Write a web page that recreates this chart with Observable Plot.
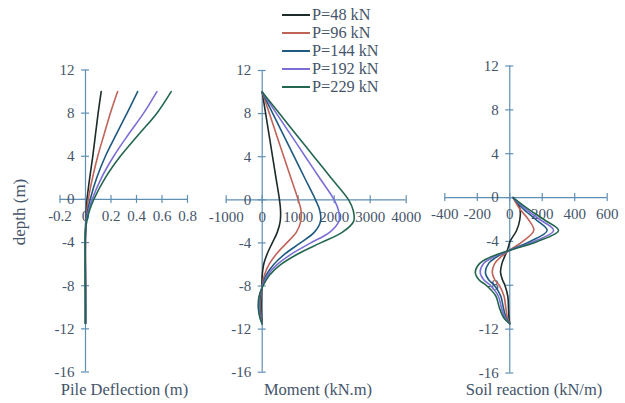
<!DOCTYPE html>
<html><head><meta charset="utf-8">
<script src="https://cdn.jsdelivr.net/npm/d3@7"></script>
<script src="https://cdn.jsdelivr.net/npm/@observablehq/plot@0.6"></script>
<style>
body{margin:0;background:#fff;}
#wrap{position:relative;width:625px;height:403px;overflow:hidden;background:#fff;font-family:"Liberation Serif","Times New Roman",serif;color:#44546a;}
#wrap svg{position:absolute;left:0;top:0;}
.lab{position:absolute;white-space:nowrap;transform:translate(-50%,-50%);font-size:16.5px;line-height:18px;}
.leg{position:absolute;left:282px;height:16px;line-height:16px;display:flex;align-items:center;font-size:16.3px;white-space:nowrap;}
.leg span.sw{display:inline-block;width:28px;height:2px;margin-right:2px;}
</style></head><body><div id="wrap"></div>
<script>
// ---- data ----
const loads = ["P=48 kN", "P=96 kN", "P=144 kN", "P=192 kN", "P=229 kN"];
const colors = ["#1d2b2b", "#c0645a", "#1f5a80", "#7b6fd6", "#23664e"];

const deflDepth = [10, 8, 6, 4, 2, 0, -1, -2, -3, -4, -6, -8, -10, -11.5];
const defl48  = [0.123, 0.099, 0.078, 0.057, 0.033, 0.012, 0.006, 0.002, 0, -0.001, -0.001, 0, 0, 0];
const defl96  = [0.252, 0.195, 0.145, 0.096, 0.055, 0.022, 0.011, 0.004, 0, -0.001, -0.001, 0, 0, 0];
const defl144 = [0.409, 0.326, 0.240, 0.156, 0.088, 0.037, 0.018, 0.006, 0, -0.002, -0.002, -0.001, 0, 0];
const defl192 = [0.560, 0.456, 0.335, 0.221, 0.125, 0.052, 0.025, 0.008, 0, -0.003, -0.002, -0.001, 0, 0];
const defl229 = [0.672, 0.560, 0.415, 0.273, 0.155, 0.065, 0.032, 0.010, 0, -0.003, -0.002, -0.001, 0, 0];

const momDepth = [10, 8, 6, 4, 2, 0, -1, -2, -3, -4, -5, -6, -7, -8, -9, -10, -11, -11.5];
const mom48  = [0, 96, 192, 288, 384, 480, 510, 500, 420, 280, 140, 40, 0, -10, -20, -25, -12, 0];
const mom96  = [0, 200, 400, 600, 800, 1000, 1080, 1070, 950, 680, 400, 190, 60, 0, -40, -50, -25, 0];
const mom144 = [0, 296, 592, 888, 1184, 1480, 1600, 1620, 1450, 1060, 640, 320, 110, 5, -60, -70, -40, 0];
const mom192 = [0, 400, 800, 1200, 1600, 2000, 2120, 2130, 1880, 1350, 830, 420, 150, 10, -80, -90, -50, 0];
const mom229 = [0, 480, 960, 1440, 1920, 2400, 2530, 2540, 2230, 1620, 1000, 520, 200, 20, -90, -110, -60, 0];

const soilDepth = [0, -1, -2, -3, -4, -4.8, -5.5, -6, -6.8, -7.5, -8, -9, -10, -11, -11.5];
const soil48  = [20, 62, 62, 42, 2, -15, -35, -48, -57, -45, -30, -12, -8, -5, 0];
const soil96  = [20, 60, 115, 148, 80, 0, -62, -92, -108, -92, -65, -35, -25, -14, 0];
const soil144 = [20, 80, 160, 230, 125, 0, -90, -130, -150, -130, -95, -55, -40, -22, 0];
const soil192 = [20, 95, 185, 270, 150, 0, -110, -160, -182, -160, -120, -70, -52, -28, 0];
const soil229 = [20, 110, 210, 300, 170, 0, -130, -185, -212, -190, -145, -85, -65, -35, 0];

const deflTicks = [-0.2, 0, 0.2, 0.4, 0.6, 0.8];
const momTicks = [-1000, 0, 1000, 2000, 3000, 4000];
const soilTicks = [-400, -200, 0, 200, 400, 600];
const depthTicks = [-16, -12, -8, -4, 0, 4, 8, 12];

const titles = ["Pile Deflection (m)", "Moment (kN.m)", "Soil reaction (kN/m)"];
const yTitle = "depth (m)";

// ---- build ----
function rows(depths, series) {
  const out = [];
  series.forEach((vals, k) => vals.forEach((v, i) => out.push({load: loads[k], x: v, depth: depths[i]})));
  return out;
}
const deflRows = rows(deflDepth, [defl48, defl96, defl144, defl192, defl229]);
const momRows = rows(momDepth, [mom48, mom96, mom144, mom192, mom229]);
const soilRows = rows(soilDepth, [soil48, soil96, soil144, soil192, soil229]);

const W = 625, H = 403;
const axisColor = "#5f8fb3";
const textColor = "#44546a";
const font = '"Liberation Serif", "Times New Roman", serif';

function panel({data, xDomain, xTicks, left, right, top, bottom}) {
  return Plot.plot({
    width: W, height: H,
    marginLeft: left, marginRight: W - right, marginTop: top, marginBottom: H - bottom,
    x: {domain: xDomain, axis: null},
    y: {domain: [-16, 12], axis: null},
    color: {domain: loads, range: colors},
    style: {background: "transparent", fontFamily: font, overflow: "visible"},
    marks: [
      Plot.ruleY([0], {stroke: axisColor, strokeWidth: 1.2}),
      Plot.ruleX([0], {stroke: axisColor, strokeWidth: 1.2}),
      Plot.ruleX(xTicks, {x: d => d, y1: () => 0, y2: () => 0, insetTop: -4, insetBottom: -4, stroke: axisColor, strokeWidth: 1.2}),
      Plot.ruleY(depthTicks, {y: d => d, x1: () => 0, x2: () => 0, insetLeft: -4, insetRight: -4, stroke: axisColor, strokeWidth: 1.2}),
      Plot.text(xTicks, {x: d => d, y: () => 0, dy: 17, text: d => String(d), fontSize: 15, fontFamily: font, fill: textColor}),
      Plot.text(depthTicks, {x: () => 0, y: d => d, dx: -11, textAnchor: "end", text: d => String(d), fontSize: 15, fontFamily: font, fill: textColor}),
      Plot.line(data, {x: "x", y: "depth", z: "load", stroke: "load", strokeWidth: 1.6, curve: "catmull-rom"})
    ]
  });
}

const wrap = document.getElementById("wrap");
wrap.append(panel({data: deflRows, xDomain: [-0.2, 0.8], xTicks: deflTicks, left: 59.5, right: 187, top: 69.5, bottom: 371.5}));
wrap.append(panel({data: momRows, xDomain: [-1000, 4000], xTicks: momTicks, left: 225.7, right: 405.7, top: 70, bottom: 371.7}));
wrap.append(panel({data: soilRows, xDomain: [-400, 600], xTicks: soilTicks, left: 444.3, right: 606.7, top: 65.5, bottom: 372.5}));

// axis titles
[[titles[0], 124.5], [titles[1], 318], [titles[2], 534]].forEach(([t, cx]) => {
  const d = document.createElement("div");
  d.className = "lab"; d.textContent = t;
  d.style.left = cx + "px"; d.style.top = "390px";
  wrap.append(d);
});
const yl = document.createElement("div");
yl.className = "lab"; yl.textContent = yTitle;
yl.style.left = "20px"; yl.style.top = "212px";
yl.style.transform = "translate(-50%,-50%) rotate(-90deg)";
yl.style.fontSize = "17px";
wrap.append(yl);

// legend
const legY = [14.5, 32.5, 50.5, 68.5, 86.5];
loads.forEach((l, i) => {
  const r = document.createElement("div");
  r.className = "leg";
  r.style.top = (legY[i] - 8) + "px";
  const sw = document.createElement("span");
  sw.className = "sw"; sw.style.background = colors[i];
  r.append(sw, document.createTextNode(l));
  wrap.append(r);
});
</script></body></html>
